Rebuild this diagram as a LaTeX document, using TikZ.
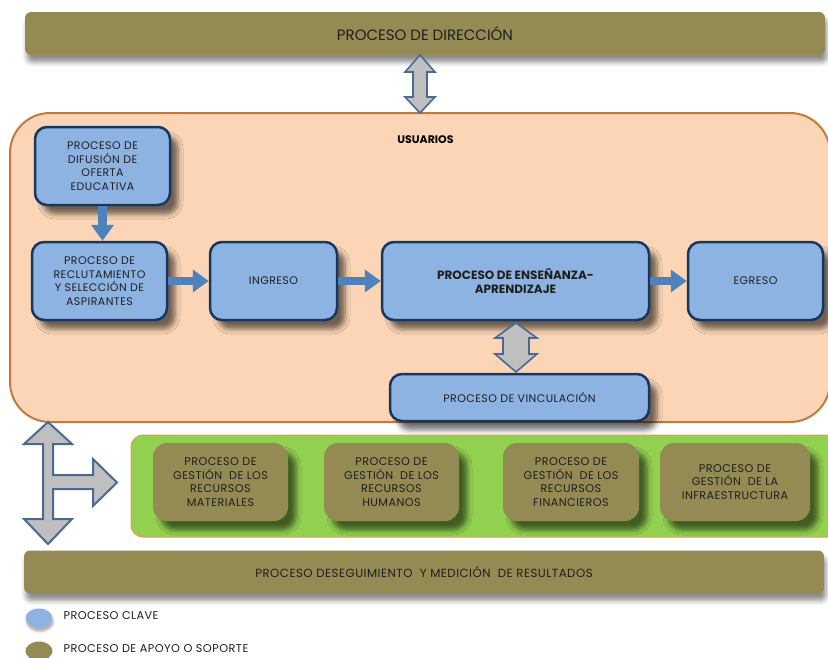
\documentclass[tikz,border=0pt]{standalone}
\usepackage{fontspec}
\setmainfont{Poppins}
\newfontfamily\boxfont[LetterSpace=4]{Poppins}
\usetikzlibrary{shadows.blur,arrows.meta,calc,shapes.geometric}

\definecolor{olive}{HTML}{948A54}
\definecolor{keyfill}{HTML}{8DB3E2}
\definecolor{keyline}{HTML}{17375E}
\definecolor{peach}{HTML}{FBD5B5}
\definecolor{peachline}{HTML}{C07A3E}
\definecolor{leaf}{HTML}{92D050}
\definecolor{leafline}{HTML}{F79646}
\definecolor{flow}{HTML}{4F81BD}
\definecolor{grayfill}{HTML}{BFBFBF}
\definecolor{grayline}{HTML}{4A6A96}
\definecolor{ink}{HTML}{1F1F1F}

\tikzset{
  bar/.style={fill=olive, rounded corners=6pt, minimum width=800pt, minimum height=43pt,
    text=ink, font=\fontsize{15}{17}\selectfont,
    blur shadow={shadow xshift=2pt, shadow yshift=-7pt, shadow blur radius=5pt, shadow opacity=45}},
  keyproc/.style={draw=keyline, line width=2.5pt, fill=keyfill, rounded corners=12pt,
    align=center, text=ink, font=\boxfont\fontsize{11}{13.6}\selectfont, inner sep=2pt,
    blur shadow={shadow xshift=8pt, shadow yshift=-9pt, shadow blur radius=5pt, shadow opacity=55}},
  support/.style={fill=olive, rounded corners=14pt, align=center, text=ink,
    font=\boxfont\fontsize{11.2}{13.6}\selectfont, inner sep=2pt,
    blur shadow={shadow xshift=8pt, shadow yshift=-9pt, shadow blur radius=5pt, shadow opacity=55}},
  flowarrow/.style={draw=flow, line width=8.5pt, -{Triangle[width=22pt, length=16pt]}},
  grayarrow/.style={fill=grayfill, draw=grayline, line width=1.6pt, line join=miter},
  legend/.style={ellipse, minimum width=27pt, minimum height=19pt, inner sep=0pt},
  legendtext/.style={anchor=west, text=ink, font=\boxfont\fontsize{11.3}{13}\selectfont}
}

\begin{document}
\begin{tikzpicture}[x=1pt, y=-1pt]
\useasboundingbox (0,0) rectangle (828,657);

% management bar
\node[bar] (dir) at (425,33.5) {PROCESO DE DIRECCIÓN};

% users area
\node[draw=peachline, line width=2pt, fill=peach, rounded corners=40pt,
      minimum width=820pt, minimum height=309pt] (usr) at (420,267.5) {};
\node[font=\bfseries\fontsize{11}{13}\selectfont, text=black] (usrlabel) at (425.5,140) {USUARIOS};

% key processes
\node[keyproc, minimum width=135pt, minimum height=78pt] (difusion) at (102.5,166)
  {PROCESO DE\\DIFUSIÓN DE\\OFERTA\\EDUCATIVA};
\node[keyproc, minimum width=135pt, minimum height=78pt] (reclut) at (99.5,281)
  {PROCESO DE\\RECLUTAMIENTO\\Y SELECCIÓN DE\\ASPIRANTES};
\node[keyproc, minimum width=127pt, minimum height=78pt] (ingreso) at (273.5,281) {INGRESO};
\node[keyproc, minimum width=267pt, minimum height=78pt,
      font=\bfseries\fontsize{12}{14}\selectfont] (ensenanza) at (515.5,281)
  {PROCESO DE ENSEÑANZA-\\APRENDIZAJE};
\node[keyproc, minimum width=135pt, minimum height=78pt] (egreso) at (755.5,281) {EGRESO};
\node[keyproc, minimum width=259pt, minimum height=47pt] (vinc) at (519.5,397.5)
  {PROCESO DE VINCULACIÓN};

% flow between key processes
\draw[flowarrow] (difusion.south) -- (difusion.south |- reclut.north);
\draw[flowarrow] (reclut.east) -- (ingreso.west);
\draw[flowarrow] (ingreso.east) -- (ensenanza.west);
\draw[flowarrow] (ensenanza.east) -- (egreso.west);

% two-way links
\draw[grayarrow] (420,55) -- (435,72) -- (427,72) -- (427,97) -- (435,97) -- (420,113)
  -- (405,97) -- (413,97) -- (413,72) -- (405,72) -- cycle;
\draw[grayarrow] (516,323) -- (537,338) -- (529,338) -- (529,354) -- (537,354) -- (516,372)
  -- (495,354) -- (503,354) -- (503,338) -- (495,338) -- cycle;
\draw[grayarrow, line width=2pt] (48,422) -- (72,444) -- (53,444) -- (53,475) -- (93,475)
  -- (93,459) -- (117,482.5) -- (93,506) -- (93,489) -- (53,489) -- (53,519) -- (72,519)
  -- (48,544) -- (24,519) -- (43,519) -- (43,489) -- (43,475) -- (43,444) -- (24,444) -- cycle;

% support processes
\node[draw=leafline, line width=1pt, fill=leaf, rounded corners=12pt,
      minimum width=709pt, minimum height=102pt] (apoyo) at (485.5,486) {};
\node[support, minimum width=135pt, minimum height=78pt] (mat) at (220.5,482)
  {PROCESO DE\\GESTIÓN\ \ DE LOS\\RECURSOS\\MATERIALES};
\node[support, minimum width=135pt, minimum height=78pt] (hum) at (391.5,482)
  {PROCESO DE\\GESTIÓN\ \ DE LOS\\RECURSOS\\HUMANOS};
\node[support, minimum width=136pt, minimum height=78pt] (fin) at (571,482)
  {PROCESO DE\\GESTIÓN\ \ DE LOS\\RECURSOS\\FINANCIEROS};
\node[support, minimum width=150pt, minimum height=78pt] (inf) at (735,482)
  {PROCESO DE\\GESTIÓN\ \ DE LA\\INFRAESTRUCTURA};

% results bar
\node[bar, font=\boxfont\fontsize{11.8}{14}\selectfont] (seg) at (424,572)
  {PROCESO DESEGUIMIENTO\ \ Y MEDICIÓN\ \ DE RESULTADOS};

% legend
\node[legend, fill=keyfill,
      blur shadow={shadow xshift=1pt, shadow yshift=-4pt, shadow blur radius=2pt, shadow opacity=30}]
  (legkey) at (39,618) {};
\node[legendtext] (legkeytext) at (60,616) {PROCESO CLAVE};
\node[legend, fill=olive] (legsup) at (39,651) {};
\node[legendtext] (legsuptext) at (60,649) {PROCESO DE APOYO O SOPORTE};
\end{tikzpicture}
\end{document}
